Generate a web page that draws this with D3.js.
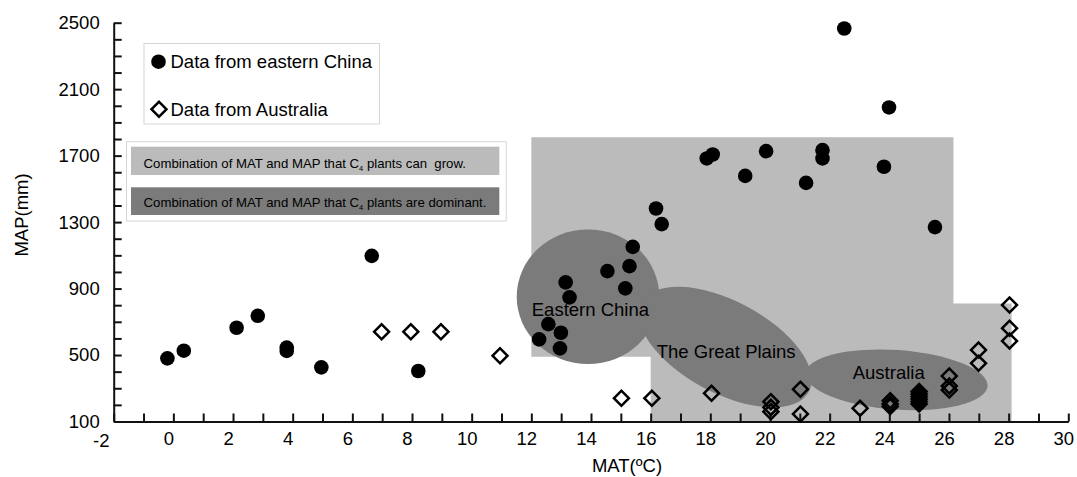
<!DOCTYPE html>
<html>
<head>
<meta charset="utf-8">
<script src="https://cdn.jsdelivr.net/npm/d3@7"></script>
<style>
  body { margin: 0; background: #fff; }
  svg { font-family: "Liberation Sans", Arial, sans-serif; }
  .axis text { font-size: 18.5px; fill: #000; }
  .axis path, .axis line { stroke: #111; stroke-width: 2px; }
</style>
</head>
<body>
<div id="chart"></div>
<script>
// eastern China sites (filled circles)
var chinaMAT = [-0.2, 0.35, 2.12, 2.83, 3.8, 3.8, 4.96, 6.65, 8.21,
  12.26, 12.57, 12.99, 12.96, 13.15, 13.28, 14.55, 15.15, 15.29, 15.4, 16.18, 16.37,
  17.88, 18.08, 19.17, 19.87, 21.21, 21.76, 21.76, 22.49, 23.82, 23.99, 25.53];
var chinaMAP = [480, 526, 664, 736, 545, 525, 426, 1097, 404,
  594, 686, 634, 540, 937, 847, 1005, 901, 1035, 1151, 1382, 1288,
  1683, 1707, 1578, 1727, 1536, 1733, 1683, 2465, 1633, 1990, 1270];

// Australian sites (open diamonds)
var ausMAT = [6.98, 7.96, 8.97, 10.95, 15.02, 16.04, 18.04,
  20.03, 20.03, 20.03, 21.02, 21.02, 23.02, 24.03, 24.03, 24.03,
  25, 25, 25, 25, 25, 25,
  26.01, 26.01, 26.01, 26.99, 26.99, 28.03, 28.03, 28.03];
var ausMAP = [640, 640, 640, 496, 240, 240, 270,
  219, 185, 159, 294, 145, 179, 225, 205, 190,
  280, 265, 250, 235, 220, 205,
  374, 313, 289, 530, 450, 801, 661, 584];

// MAT/MAP range where C4 plants can grow
var growMAT = [12, 26.15, 26.15, 28.1, 28.1, 16, 16, 12];
var growMAP = [1810, 1810, 810, 810, 100, 100, 490, 490];

// regions where C4 plants are dominant
var regionNames = ["Eastern China", "The Great Plains", "Australia"];
var regionMAT = [13.9, 18.5, 24.24];
var regionMAP = [851, 548, 351];
var regionRMAT = [2.39, 3.18, 3.06];
var regionRMAP = [405, 277, 179];
var regionTilt = [0, 28, 4];
var labelMAT = [13.98, 18.53, 23.98];
var labelMAP = [736, 484, 354];

var xTicks = d3.range(-2, 31, 1);
var yTicks = d3.range(100, 2501, 100);

var W = 1077, H = 477;

var svg = d3.select("#chart")
  .append("svg")
  .attr("width", W)
  .attr("height", H);

var x = d3.scaleLinear().domain([-2, 30]).range([113.7, 1068.3]);
var y = d3.scaleLinear().domain([100, 2500]).range([421.5, 22.7]);

// light grey area
var growPts = growMAT.map(function(d, i) { return [x(d), y(growMAP[i])]; });
svg.append("path")
  .attr("d", d3.line()(growPts) + "Z")
  .attr("fill", "#bbbbbb");

// dark ellipses
regionNames.forEach(function(name, i) {
  var cx = x(regionMAT[i]), cy = y(regionMAP[i]);
  var rx = x(regionMAT[i] + regionRMAT[i]) - cx;
  var ry = cy - y(regionMAP[i] + regionRMAP[i]);
  svg.append("ellipse")
    .attr("transform", "translate(" + cx + "," + cy + ") rotate(" + regionTilt[i] + ")")
    .attr("rx", rx)
    .attr("ry", ry)
    .attr("fill", "#7b7b7b");
});

regionNames.forEach(function(name, i) {
  svg.append("text")
    .attr("x", x(labelMAT[i]))
    .attr("y", y(labelMAP[i]))
    .attr("text-anchor", "middle")
    .style("font-size", "18.5px")
    .attr("fill", "#000")
    .text(name);
});

// axes
var xAxis = svg.append("g")
  .attr("class", "axis")
  .attr("transform", "translate(0," + y(100) + ")")
  .call(d3.axisBottom(x).tickValues(xTicks)
    .tickSizeInner(-8).tickSizeOuter(0).tickPadding(10)
    .tickFormat(function(d) { return d % 2 === 0 ? d : ""; }));
xAxis.selectAll(".tick text").attr("dx", function(d) { return d === -2 ? -13 : -5; });
xAxis.selectAll(".tick text").filter(function(d) { return d === -2; }).attr("y", 12);

var yAxis = svg.append("g")
  .attr("class", "axis")
  .attr("transform", "translate(" + x(-2) + ",0)")
  .call(d3.axisLeft(y).tickValues(yTicks)
    .tickSizeInner(-8).tickSizeOuter(0).tickPadding(14)
    .tickFormat(function(d) { return (d - 100) % 400 === 0 ? d : ""; }));
yAxis.selectAll(".tick text").attr("dy", function(d) { return d === 100 ? "0.3em" : "0.32em"; });

// points
var diamond = d3.symbol().type(d3.symbolSquare).size(112);

svg.append("g").selectAll("path")
  .data(ausMAT)
  .enter()
  .append("path")
  .attr("d", diamond)
  .attr("transform", function(d, i) { return "translate(" + x(d) + "," + y(ausMAP[i]) + ") rotate(45)"; })
  .attr("fill", "none")
  .attr("stroke", "#000")
  .attr("stroke-width", 2.5);

svg.append("g").selectAll("circle")
  .data(chinaMAT)
  .enter()
  .append("circle")
  .attr("cx", function(d) { return x(d); })
  .attr("cy", function(d, i) { return y(chinaMAP[i]); })
  .attr("r", 7.3)
  .attr("fill", "#000");

// axis titles
svg.append("text")
  .attr("x", 627)
  .attr("y", 472)
  .attr("text-anchor", "middle")
  .style("font-size", "18.5px")
  .attr("fill", "#000")
  .text("MAT(ºC)");

svg.append("text")
  .attr("transform", "translate(28,215) rotate(-90)")
  .attr("text-anchor", "middle")
  .style("font-size", "18.5px")
  .attr("fill", "#000")
  .text("MAP(mm)");

// legend: data sources
var leg = svg.append("g");
leg.append("rect")
  .attr("x", 144).attr("y", 43.5).attr("width", 235.5).attr("height", 80.5)
  .attr("fill", "#fff").attr("stroke", "#d6d6d6").attr("stroke-width", 1);
leg.append("circle").attr("cx", 158.5).attr("cy", 61.7).attr("r", 7.3).attr("fill", "#000");
leg.append("path").attr("d", diamond)
  .attr("transform", "translate(159,109.3) rotate(45)")
  .attr("fill", "none").attr("stroke", "#000").attr("stroke-width", 2.5);
leg.append("text").attr("x", 170.5).attr("y", 68.3).style("font-size", "18.5px").attr("fill", "#000")
  .text("Data from eastern China");
leg.append("text").attr("x", 170.5).attr("y", 115.7).style("font-size", "18.5px").attr("fill", "#000")
  .text("Data from Australia");

// legend: C4 areas
var leg2 = svg.append("g");
leg2.append("rect")
  .attr("x", 126.5).attr("y", 141.7).attr("width", 379.7).attr("height", 79.3)
  .attr("fill", "#fff").attr("stroke", "#d6d6d6").attr("stroke-width", 1);
leg2.append("rect")
  .attr("x", 131).attr("y", 146.7).attr("width", 368.3).attr("height", 28.3)
  .attr("fill", "#bbbbbb");
leg2.append("rect")
  .attr("x", 131).attr("y", 187.3).attr("width", 368.3).attr("height", 27.7)
  .attr("fill", "#7b7b7b");

var t1 = leg2.append("text").attr("x", 143.6).attr("y", 168.3)
  .style("font-size", "13.2px").attr("fill", "#000");
t1.append("tspan").text("Combination of MAT and MAP that C");
t1.append("tspan").attr("dy", 3).style("font-size", "7.5px").text("4");
t1.append("tspan").attr("dy", -3).text(" plants can\u00a0 grow.");

var t2 = leg2.append("text").attr("x", 143.6).attr("y", 206.7)
  .style("font-size", "13.2px").attr("fill", "#000");
t2.append("tspan").text("Combination of MAT and MAP that C");
t2.append("tspan").attr("dy", 3).style("font-size", "7.5px").text("4");
t2.append("tspan").attr("dy", -3).text(" plants are dominant.");
</script>
</body>
</html>
